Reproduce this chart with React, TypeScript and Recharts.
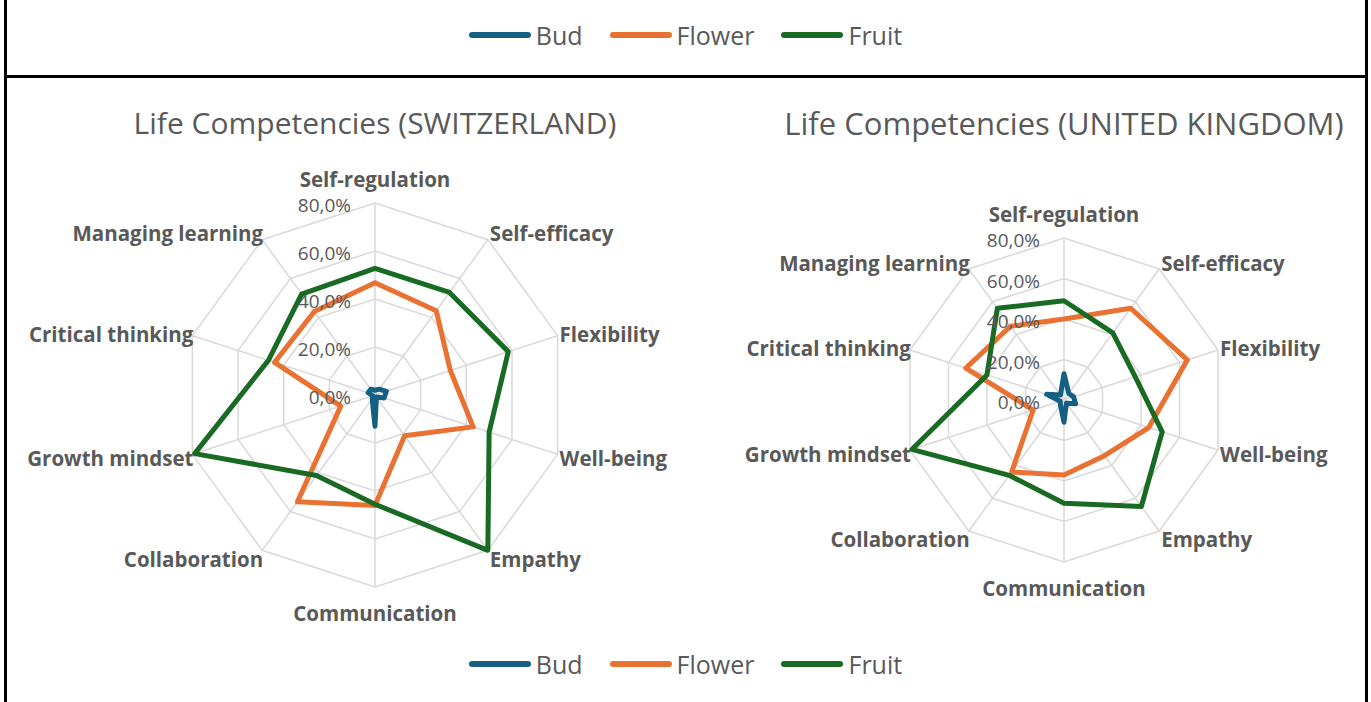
import { RadarChart, Radar, PolarGrid, PolarAngleAxis, PolarRadiusAxis } from "recharts";

const skills = [
  "Self-regulation",
  "Self-efficacy",
  "Flexibility",
  "Well-being",
  "Empathy",
  "Communication",
  "Collaboration",
  "Growth mindset",
  "Critical thinking",
  "Managing learning",
];

// percent of respondents
const radiusTicks = [0, 20, 40, 60, 80];

// Switzerland
const chBud = [2, 3, 5, 4, 1, 13, 2, 1, 3, 3];
const chFlower = [46.8, 43.4, 33, 43, 21, 46, 55, 15, 44, 43];
const chFruit = [52.8, 52.8, 58.4, 50, 80, 45.5, 41.5, 79, 46.7, 52];

// United Kingdom
const ukBud = [13, 4, 5, 6, 2, 11, 3, 2, 9, 3];
const ukFlower = [40, 56, 64, 44, 34, 37, 44, 16, 51, 45];
const ukFruit = [49, 41, 37, 51, 65, 51, 46, 79, 40, 56];

const seriesNames = ["Bud", "Flower", "Fruit"];
const seriesColors = ["#156082", "#E97132", "#196B24"];

const FONT = "'Open Sans', sans-serif";
const TEXT = "#595959";

function buildRows(bud: number[], flower: number[], fruit: number[]) {
  return skills.map((s, i) => ({ skill: s, bud: bud[i], flower: flower[i], fruit: fruit[i] }));
}

function pct(v: number) {
  return v.toFixed(1).replace(".", ",") + "%";
}

function Legend({ top }: { top: number }) {
  return (
    <div
      style={{
        position: "absolute",
        left: 0,
        top,
        width: 1371,
        display: "flex",
        justifyContent: "center",
        alignItems: "center",
        fontFamily: FONT,
        fontSize: 25,
        color: TEXT,
      }}
    >
      {seriesNames.map((n, i) => (
        <div key={n} style={{ display: "flex", alignItems: "center", marginRight: i < 2 ? 27 : 0 }}>
          <div style={{ width: 62, height: 6, borderRadius: 3, background: seriesColors[i], marginRight: 5 }} />
          <span>{n}</span>
        </div>
      ))}
    </div>
  );
}

function angleTick(cx: number, cy: number, R: number) {
  return (props: any) => {
    const coord = props.payload.coordinate as number; // degrees, 90 = top
    const rad = (coord * Math.PI) / 180;
    const vx = cx + R * Math.cos(rad);
    const vy = cy - R * Math.sin(rad);
    const s = Math.cos(rad);
    const c = Math.sin(rad);
    let x = vx;
    let y = vy;
    let anchor: "start" | "middle" | "end" = "middle";
    if (Math.abs(s) < 0.1) {
      y = c > 0 ? vy - 24 : vy + 26;
    } else {
      anchor = s > 0 ? "start" : "end";
      x = vx + (s > 0 ? 2 : 1);
      y = vy + 1 - 9 * c;
    }
    return (
      <text
        x={x}
        y={y}
        textAnchor={anchor}
        dominantBaseline="central"
        fontFamily={FONT}
        fontWeight={700}
        fontSize={20.5}
        fill={TEXT}
      >
        {props.payload.value}
      </text>
    );
  };
}

function radiusTick(props: any) {
  return (
    <text
      x={props.x - 24}
      y={props.y + 2}
      textAnchor="end"
      dominantBaseline="central"
      fontFamily={FONT}
      fontSize={19}
      fill={TEXT}
    >
      {pct(props.payload.value)}
    </text>
  );
}

function CompetencyRadar({
  title,
  rows,
  left,
  top,
  width,
  height,
  cx,
  cy,
  R,
  titleSize,
}: {
  title: string;
  rows: any[];
  left: number;
  top: number;
  width: number;
  height: number;
  cx: number;
  cy: number;
  R: number;
  titleSize: number;
}) {
  return (
    <div style={{ position: "absolute", left, top, width, height }}>
      <div
        style={{
          position: "absolute",
          left: cx - 400,
          width: 800,
          top: 22,
          textAlign: "center",
          fontFamily: FONT,
          fontSize: titleSize,
          color: TEXT,
          whiteSpace: "nowrap",
        }}
      >
        {title}
      </div>
      <RadarChart width={width} height={height} data={rows} cx={cx} cy={cy} outerRadius={R}>
        <PolarGrid gridType="polygon" stroke="#d9d9d9" strokeWidth={1.5} />
        <PolarAngleAxis dataKey="skill" tick={angleTick(cx, cy, R)} tickLine={false} axisLine={false} />
        <PolarRadiusAxis
          angle={90}
          type="number"
          domain={[0, 80]}
          ticks={radiusTicks as any}
          tickCount={5}
          allowDecimals
          allowDataOverflow
          axisLine={false}
          tickLine={false}
          tick={radiusTick}
        />
        <Radar dataKey="bud" name="Bud" stroke={seriesColors[0]} strokeWidth={5} strokeLinejoin="round" fill="none" fillOpacity={0} dot={false} isAnimationActive={false} />
        <Radar dataKey="flower" name="Flower" stroke={seriesColors[1]} strokeWidth={5} strokeLinejoin="round" fill="none" fillOpacity={0} dot={false} isAnimationActive={false} />
        <Radar dataKey="fruit" name="Fruit" stroke={seriesColors[2]} strokeWidth={5} strokeLinejoin="round" fill="none" fillOpacity={0} dot={false} isAnimationActive={false} />
      </RadarChart>
    </div>
  );
}

export default function App() {
  return (
    <div style={{ position: "absolute", left: 0, top: 0, width: 1371, height: 702, background: "#fff", overflow: "hidden" }}>
      <div style={{ position: "absolute", left: 4, top: 0, width: 3, height: 702, background: "#000" }} />
      <div style={{ position: "absolute", left: 1365, top: 0, width: 3, height: 702, background: "#000" }} />
      <div style={{ position: "absolute", left: 4, top: 75, width: 1364, height: 3, background: "#000" }} />
      <Legend top={18} />
      <CompetencyRadar
        title="Life Competencies (SWITZERLAND)"
        rows={buildRows(chBud, chFlower, chFruit)}
        left={8}
        top={80}
        width={680}
        height={570}
        cx={367}
        cy={315}
        R={192}
        titleSize={30}
      />
      <CompetencyRadar
        title="Life Competencies (UNITED KINGDOM)"
        rows={buildRows(ukBud, ukFlower, ukFruit)}
        left={688}
        top={80}
        width={676}
        height={570}
        cx={376}
        cy={320}
        R={162}
        titleSize={31}
      />
      <Legend top={647} />
    </div>
  );
}
